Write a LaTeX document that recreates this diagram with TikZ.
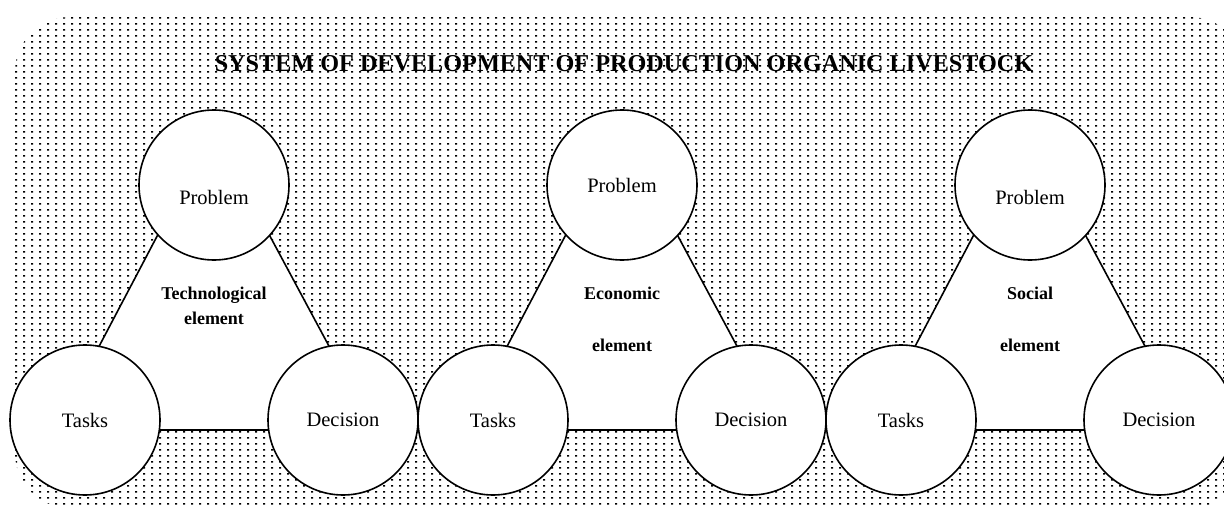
\documentclass[tikz,border=0pt]{standalone}
\usepackage{fontspec}
\setmainfont{Liberation Serif}
\begin{document}
\begin{tikzpicture}[x=1pt,y=-1pt,
  circ/.style={circle,draw,line width=1.6pt,fill=white,minimum size=150pt,inner sep=0pt},
  tri/.style={draw,line width=1.6pt,fill=white,line join=miter},
  lbl/.style={font=\fontsize{20.5}{24}\selectfont,inner sep=0pt},
  elem/.style={font=\bfseries\fontsize{18}{25}\selectfont,align=center,inner sep=0pt}]
\useasboundingbox (0,0) rectangle (1224,514);
\begin{scope}
  \clip[rounded corners=55pt] (15,17) rectangle (1245,508);
  \foreach \yy in {17,23,...,508}{
    \fill[black] foreach \xx in {15,23,...,1230}{(\xx,\yy) rectangle ++(2,1.5)};
  }
\end{scope}
\node[font=\bfseries\fontsize{24.2}{28}\selectfont,inner sep=0pt] (title) at (624,64)
  {SYSTEM OF DEVELOPMENT OF PRODUCTION ORGANIC LIVESTOCK};
\foreach \ox/\k in {0/t,408/e,816/s}{
  \coordinate (apex\k) at (213+\ox,130);
  \coordinate (bl\k) at (55+\ox,430);
  \coordinate (br\k) at (374+\ox,430);
  \draw[tri] (apex\k) -- (bl\k) -- (br\k) -- cycle;
  \node[circ] (prob\k) at (214+\ox,185) {};
  \node[circ] (task\k) at (85+\ox,420) {};
  \node[circ] (dec\k) at (343+\ox,420) {};
  \node[lbl] (tasktxt\k) at (task\k) {Tasks};
  \node[lbl] (dectxt\k) at (dec\k) {Decision};
}
\node[lbl] (probtxtt) at (214,197) {Problem};
\node[lbl] (probtxte) at (622,185) {Problem};
\node[lbl] (probtxts) at (1030,197) {Problem};
\node[elem] (elt) at (214,305.5) {Technological\\element};
\node[elem] (ele1) at (622,293) {Economic};
\node[elem] (ele2) at (622,345) {element};
\node[elem] (els1) at (1030,293) {Social};
\node[elem] (els2) at (1030,345) {element};
\end{tikzpicture}
\end{document}
